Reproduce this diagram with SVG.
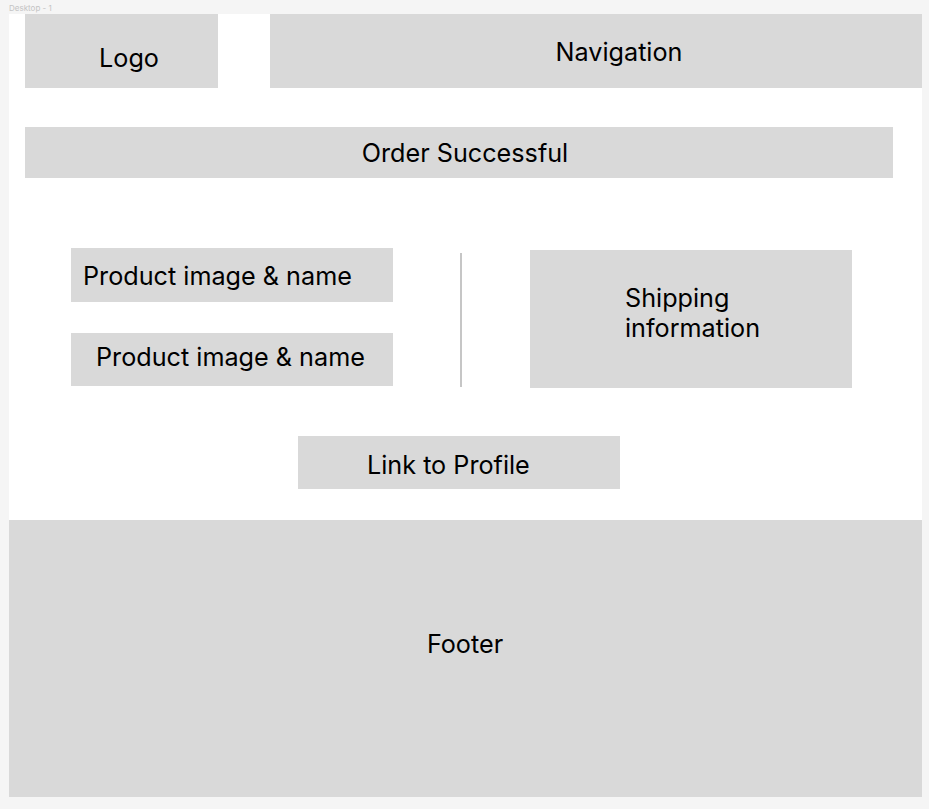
<svg xmlns="http://www.w3.org/2000/svg" width="929" height="809" viewBox="0 0 929 809">
<style>
.box{fill:#d9d9d9}
.t{font-family:Inter,"Liberation Sans",sans-serif;font-size:25.2px;fill:#000}
.c{text-anchor:middle}
</style>
<rect x="0" y="0" width="929" height="809" fill="#f5f5f5"/>
<text x="9" y="11" font-family="Inter,'Liberation Sans',sans-serif" font-size="8" fill="#c4c4c4">Desktop - 1</text>
<rect x="9" y="14" width="913" height="783" fill="#ffffff"/>
<g id="logo"><rect class="box" x="25" y="14" width="193" height="74"/><text class="t c" x="129" y="67">Logo</text></g>
<g id="navigation"><rect class="box" x="270" y="14" width="652" height="74"/><text class="t c" x="619" y="61">Navigation</text></g>
<g id="order-successful"><rect class="box" x="25" y="127" width="868" height="51"/><text class="t c" x="465" y="162">Order Successful</text></g>
<g id="product-1"><rect class="box" x="71" y="248" width="322" height="54"/><text class="t" x="83" y="285">Product image &amp; name</text></g>
<g id="product-2"><rect class="box" x="71" y="333" width="322" height="53"/><text class="t" x="96" y="366">Product image &amp; name</text></g>
<g id="connectors"><line x1="461" y1="253" x2="461" y2="387" stroke="#b3b3b3" stroke-width="1.5"/></g>
<g id="shipping"><rect class="box" x="530" y="250" width="322" height="138"/><text class="t" x="625" y="307">Shipping</text><text class="t" x="625" y="337">information</text></g>
<g id="link-profile"><rect class="box" x="298" y="436" width="322" height="53"/><text class="t" x="367" y="474">Link to Profile</text></g>
<g id="footer"><rect class="box" x="9" y="520" width="913" height="277"/><text class="t c" x="465" y="653">Footer</text></g>
</svg>
